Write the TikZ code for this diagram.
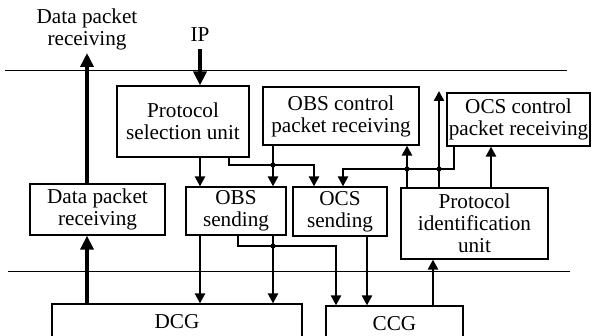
\documentclass[tikz,border=0pt]{standalone}
\usepackage{fontspec}
\setmainfont{Liberation Serif}
\usetikzlibrary{arrows.meta, positioning}
\tikzstyle{unit} = [rectangle, draw=black, line width=0.6pt, inner sep=0pt, align=center, font=\fontsize{10.6pt}{11pt}\selectfont]
\tikzstyle{lbl} = [align=center, font=\fontsize{10.6pt}{11pt}\selectfont]
\tikzstyle{arrow} = [line width=1.2pt, -{Triangle[length=5pt,width=5pt]}]
\tikzstyle{bigarrow} = [line width=2.3pt, -{Triangle[length=7pt,width=6.5pt]}]
\tikzstyle{divider} = [line width=0.5pt]

\begin{document}
\begin{tikzpicture}[x=0.5pt, y=-0.5pt]
      \useasboundingbox (0,0) rectangle (593,336);

      % layer borders
      \draw [divider] (5,71) -- (567,71);
      \draw [divider] (8,271) -- (570,271);

      % outside texts
      \node (dptxt) [lbl] at (87,29) {Data packet\\receiving};
      \node (ip) [lbl] at (200,35) {IP};

      % upper row
      \node (psu) [unit, minimum width=66pt, minimum height=35.5pt] at (183,121.5) {Protocol\\selection unit};
      \node (obsc) [unit, minimum width=78pt, minimum height=29pt] at (341,116) {OBS control\\packet receiving};
      \node (ocsc) [unit, minimum width=71.5pt, minimum height=26.5pt] at (518.5,119.5) {OCS control\\packet receiving};

      % middle row
      \node (dpr) [unit, minimum width=67.5pt, minimum height=25.5pt] at (97.5,209.5) {Data packet\\receiving};
      \node (obss) [unit, minimum width=50pt, minimum height=24pt] at (236,211) {OBS\\sending};
      \node (ocss) [unit, minimum width=47pt, minimum height=24.5pt] at (340,211.5) {OCS\\sending};
      \node (piu) [unit, minimum width=73.5pt, minimum height=35.5pt] at (474.5,223.5) {Protocol\\identification\\unit};

      % bottom row
      \node (dcg) [unit, minimum width=125pt, minimum height=18pt] at (177,322) {DCG};
      \node (ccg) [unit, minimum width=68.5pt, minimum height=18pt] at (394.5,324) {CCG};

      % junctions and free ends
      \coordinate (j1) at (273,165);
      \coordinate (j2) at (407,169);
      \coordinate (j3) at (439,169);
      \coordinate (j4) at (273,246);
      \coordinate (dpout) at (87,53);
      \coordinate (idout) at (439,91);

      \draw [bigarrow] (ip) -- (psu.north -| ip);
      \draw [bigarrow] (dpr.north -| dpout) -- (dpout);
      \draw [bigarrow] (dcg.north -| dpout) -- (dpr.south -| dpout);

      \draw [arrow] (psu.south -| ip) -- (obss.north -| ip);
      \draw [arrow] ([xshift=23pt]psu.south) |- (j1) -| ([xshift=-13pt]ocss.north);
      \draw [arrow] (obsc.south -| j1) -- (obss.north -| j1);
      \draw [arrow] ([xshift=-32.25pt]ocsc.south) |- (j3) -| ([xshift=1.5pt]ocss.north);
      \draw [arrow] (piu.north -| j2) -- (obsc.south -| j2);
      \draw [arrow] (piu.north -| j3) -- (idout);
      \draw [arrow] ([xshift=8.25pt]piu.north) -- ([xshift=8.25pt]piu.north |- ocsc.south);

      \draw [arrow] (obss.south -| ip) -- (dcg.north -| ip);
      \draw [arrow] (obss.south -| j4) -- (dcg.north -| j4);
      \draw [arrow] ([xshift=1pt]obss.south) |- (j4) -| ([xshift=-29.25pt]ccg.north);
      \draw [arrow] ([xshift=13.5pt]ocss.south) -- ([xshift=13.5pt]ocss.south |- ccg.north);
      \draw [arrow] ([xshift=19.25pt]ccg.north) -- ([xshift=19.25pt]ccg.north |- piu.south);

      \foreach \j in {j1,j2,j3,j4}
        \fill (\j) circle (1.3pt);
    \end{tikzpicture}
\end{document}
